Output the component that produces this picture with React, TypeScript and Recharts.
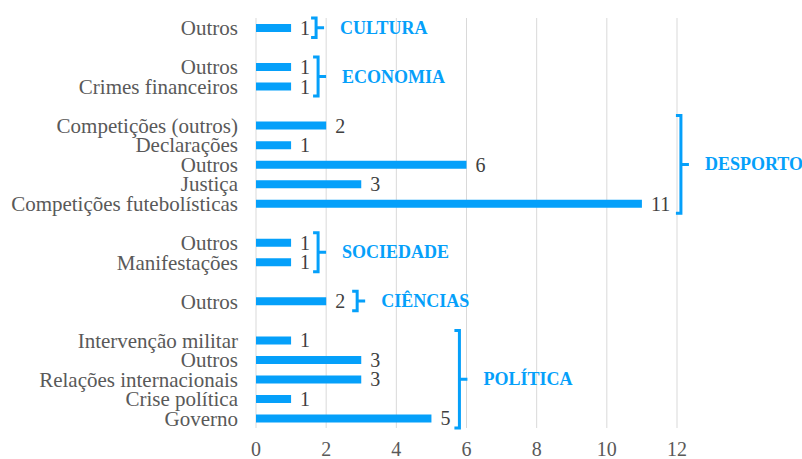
import React from 'react';
import { BarChart, Bar, XAxis, YAxis, CartesianGrid, LabelList, ReferenceArea } from 'recharts';

const categories = [
  'Outros', '',
  'Outros', 'Crimes financeiros', '',
  'Competições (outros)', 'Declarações', 'Outros', 'Justiça', 'Competições futebolísticas', '',
  'Outros', 'Manifestações', '',
  'Outros', '',
  'Intervenção militar', 'Outros', 'Relações internacionais', 'Crise política', 'Governo',
];
const values: (number | null)[] = [
  1, null,
  1, 1, null,
  2, 1, 6, 3, 11, null,
  1, 1, null,
  2, null,
  1, 3, 3, 1, 5,
];
const groupNames = ['CULTURA', 'ECONOMIA', 'DESPORTO', 'SOCIEDADE', 'CIÊNCIAS', 'POLÍTICA'];
const groupFirstRow = [0, 2, 5, 11, 14, 16];
const groupLastRow = [0, 3, 9, 12, 14, 20];
const xTicks = [0, 2, 4, 6, 8, 10, 12];

// style: pixel gap between a group's longest bar and its bracket
const bracketGap = [25, 27, 39, 27, 31, 28];

const BLUE = '#05A0FA';
const FONT = 'Liberation Serif, Tinos, DejaVu Serif, serif';

const data = categories.map((label, i) => ({ id: 'r' + i, label, value: values[i] }));

const groups = groupNames.map((name, g) => {
  let max = 0;
  for (let i = groupFirstRow[g]; i <= groupLastRow[g]; i++) {
    const v = values[i];
    if (v != null && v > max) max = v;
  }
  return { name, y1: 'r' + groupFirstRow[g], y2: 'r' + groupLastRow[g], max, gap: bracketGap[g] };
});

const makeBracket = (name: string, gap: number) => (props: any) => {
  const { x, y, height } = props;
  const bx = x + gap;
  const top = y;
  const bottom = y + height;
  const mid = (top + bottom) / 2;
  const d = `M ${bx - 5} ${top} L ${bx} ${top} L ${bx} ${bottom} L ${bx - 5} ${bottom} M ${bx} ${mid} L ${bx + 8} ${mid}`;
  return (
    <g>
      <path d={d} fill="none" stroke={BLUE} strokeWidth={3} />
      <text x={bx + 24} y={mid} dominantBaseline="central" fill={BLUE} style={{ fontFamily: FONT, fontWeight: 'bold', fontSize: 18 }}>
        {name}
      </text>
    </g>
  );
};

const renderValueLabel = (props: any) => {
  const { x, y, width, height, value } = props;
  if (value == null) return null;
  return (
    <text x={x + width + 9} y={y + height / 2} dominantBaseline="central" fill="#404040" style={{ fontFamily: FONT, fontSize: 20 }}>
      {value}
    </text>
  );
};

export default function App() {
  return (
    <div style={{ position: 'absolute', left: 0, top: 0, background: '#fff', fontFamily: FONT }}>
      <BarChart
        width={802}
        height={459}
        data={data}
        layout="vertical"
        margin={{ top: 18, right: 125, bottom: 0, left: 0 }}
        style={{ fontFamily: FONT }}
      >
        <CartesianGrid horizontal={false} stroke="#d9d9d9" />
        <XAxis
          type="number"
          domain={[0, 12]}
          ticks={xTicks}
          axisLine={false}
          tickLine={false}
          tickSize={0}
          tickMargin={14}
          height={31}
          tick={{ fill: '#595959', fontSize: 20, style: { fontFamily: FONT } }}
        />
        <YAxis
          type="category"
          dataKey="id"
          width={256}
          interval={0}
          axisLine={false}
          tickLine={false}
          tickSize={0}
          tickMargin={18}
          tickFormatter={(id: string) => data[Number(id.slice(1))].label}
          tick={{ fill: '#595959', fontSize: 21, style: { fontFamily: FONT } }}
        />
        <Bar dataKey="value" fill={BLUE} barSize={8} isAnimationActive={false}>
          <LabelList dataKey="value" content={renderValueLabel} />
        </Bar>
        {groups.map((g) => (
          <ReferenceArea
            key={g.name}
            x1={g.max}
            x2={12}
            y1={g.y1}
            y2={g.y2}
            ifOverflow="visible"
            shape={makeBracket(g.name, g.gap)}
          />
        ))}
      </BarChart>
    </div>
  );
}
